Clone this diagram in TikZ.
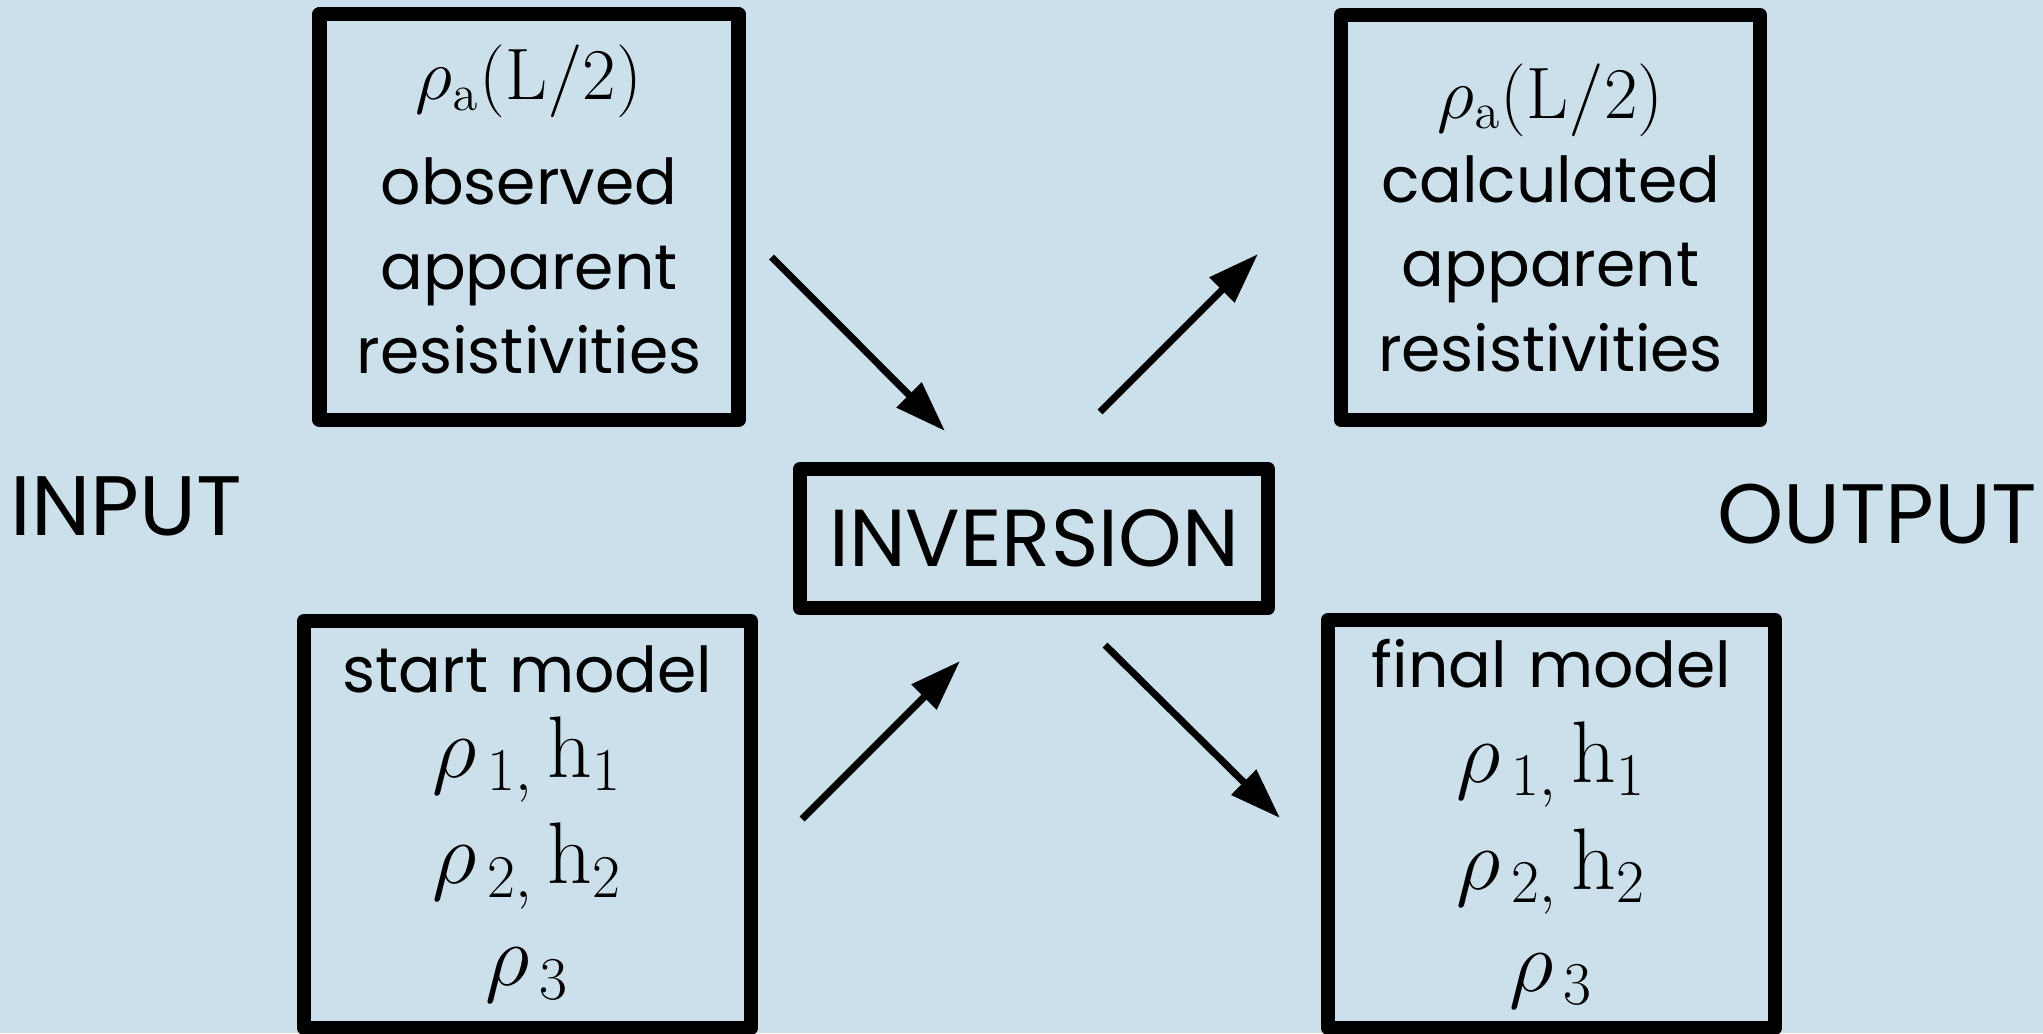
\documentclass[tikz,border=0pt]{standalone}
\usepackage{amsmath}
\usepackage[no-math]{fontspec}
\setmainfont{Poppins}
\usepackage{tikz}
\usetikzlibrary{arrows.meta, positioning, calc}
\definecolor{paleblue}{RGB}{204, 224, 235}
\newcommand{\rholine}[1]{{\fontsize{22}{24}\selectfont$#1$}}
\newcommand{\layerline}[1]{{\fontsize{23}{28}\selectfont$#1$}}
\tikzstyle{databox} = [rectangle, draw=black, line width=4pt, line join=round, text width=4cm, align=center, inner sep=0pt, font=\fontsize{18}{24}\selectfont]
\tikzstyle{label} = [inner sep=0pt, font=\fontsize{24}{28}\selectfont]
\tikzstyle{arrow} = [-{Triangle[length=5.1mm, width=3.4mm]}, line width=2pt]

\begin{document}
\begin{tikzpicture}
    % Background
    \fill[paleblue] (0, 0) rectangle (20.43, -10.33);
    \useasboundingbox (0, 0) rectangle (20.43, -10.33);

    % Input side
    \node[databox, minimum width=4.19cm, minimum height=4.06cm, text depth=2.9cm] (observed) at (5.29, -2.17) {
        \rholine{\rho_{\mathrm{a}}(\mathrm{L}/2)}\\[6pt]
        observed\\
        apparent\\
        resistivities
    };
    \node[databox, minimum width=4.47cm, minimum height=4.07cm] (startmodel) at (5.275, -8.245) {
        start model\\
        \layerline{\rho_{\,1,}\,\mathrm{h}_1}\\[5pt]
        \layerline{\rho_{\,2,}\,\mathrm{h}_2}\\[5pt]
        \layerline{\rho_{\,3}}
    };
    \node[label, anchor=west] (input) at (0.1, -5.06) {INPUT};

    % Inversion
    \node[databox, minimum width=4.68cm, minimum height=1.39cm, text width=4.5cm, font=\fontsize{23}{28}\selectfont] (inversion) at (10.34, -5.385) {INVERSION};

    % Output side
    \node[databox, minimum width=4.19cm, minimum height=4.05cm] (calculated) at (15.505, -2.175) {
        \rholine{\rho_{\mathrm{a}}(\mathrm{L}/2)}\\
        calculated\\
        apparent\\
        resistivities
    };
    \node[databox, minimum width=4.47cm, minimum height=4.08cm] (finalmodel) at (15.515, -8.24) {
        final model\\[3pt]
        \layerline{\rho_{\,1,}\,\mathrm{h}_1}\\[5pt]
        \layerline{\rho_{\,2,}\,\mathrm{h}_2}\\[5pt]
        \layerline{\rho_{\,3}}
    };
    \node[label, anchor=east] (output) at (20.38, -5.145) {OUTPUT};

    % Arrow ends
    \coordinate (obsout) at ($(observed.east)+(0.26, -0.40)$);
    \coordinate (invin1) at ($(inversion.north)+(-0.89, 0.31)$);
    \coordinate (startout) at ($(startmodel.east)+(0.44, 0.055)$);
    \coordinate (invin2) at ($(inversion.south)+(-0.74, -0.46)$);
    \coordinate (invout1) at ($(inversion.north)+(0.66, 0.50)$);
    \coordinate (calcin) at ($(calculated.west)+(-0.76, -0.365)$);
    \coordinate (invout2) at ($(inversion.south)+(0.71, -0.30)$);
    \coordinate (finalin) at ($(finalmodel.west)+(-0.41, 0.06)$);

    \draw[arrow] (obsout) -- (invin1);
    \draw[arrow] (startout) -- (invin2);
    \draw[arrow] (invout1) -- (calcin);
    \draw[arrow] (invout2) -- (finalin);
\end{tikzpicture}
\end{document}
